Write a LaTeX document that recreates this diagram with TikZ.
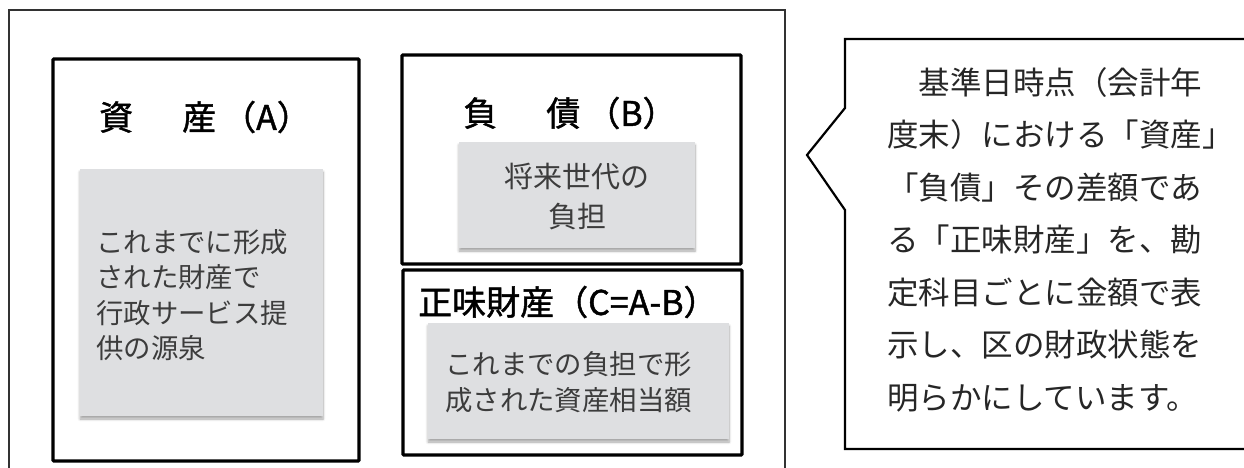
\documentclass[tikz,border=0pt]{standalone}
\usepackage{fontspec}
\setmainfont{Noto Sans CJK JP}
\newfontfamily\jfont{Noto Sans CJK JP}
\newfontfamily\tfont{Noto Sans CJK JP}[FakeBold=1.3]
\usetikzlibrary{shadows.blur}
\definecolor{boxgray}{RGB}{222,223,225}
\definecolor{txtgray}{RGB}{60,60,60}
\definecolor{framegray}{RGB}{50,50,50}
\tikzset{
  bigbox/.style={draw=black, line width=3.4pt, rounded corners=1pt},
  graybox/.style={fill=boxgray, draw=none, blur shadow={shadow xshift=0pt, shadow yshift=-3pt, shadow blur steps=6, shadow blur radius=2.5pt, shadow opacity=35}},
  title/.style={inner sep=0pt, font=\tfont\fontsize{34}{40}\selectfont, text=black},
  body/.style={inner sep=0pt, font=\jfont\fontsize{27.4}{35.5}\selectfont, text=txtgray, align=left},
  calltext/.style={inner sep=0pt, font=\jfont\fontsize{31.5}{52.5}\selectfont, text=black!85, align=left}
}
\begin{document}
\begin{tikzpicture}[x=1pt,y=-1pt]
\useasboundingbox (0,0) rectangle (1244,468);
% outer frame
\draw[framegray, line width=1.5pt] (9,475) -- (9,10) -- (785,10) -- (785,475);
% big boxes
\draw[bigbox] (53,59) rectangle (359,461);
\draw[bigbox] (402,55) rectangle (741,264);
\draw[bigbox] (403,270) rectangle (742,455);
% gray boxes
\path[graybox] (80,169) rectangle (323,416);
\path[graybox] (459,142) rectangle (695,248);
\path[graybox] (428,323) rectangle (729,439);
% titles
\node[title] (ta) at (205,117) {資\hspace{49pt}産\hspace{6pt}（A）};
\node[title] (tb) at (570,113) {負\hspace{49pt}債\hspace{6pt}（B）};
\node[title, anchor=west] (tc) at (418,302) {正味財産（C=A-B）};
% body texts
\node[body, anchor=west] (ba) at (96,295) {これまでに形成\\された財産で\\行政サービス提\\供の源泉};
\node[body, align=center, font=\jfont\fontsize{29}{40}\selectfont] (bb) at (577,197) {将来世代の\\負担};
\node[body, anchor=west] (bc) at (445,382) {これまでの負担で形\\成された資産相当額};
% callout
\draw[black, line width=2.2pt, line join=miter] (1260,39) -- (845,39) -- (845,108) -- (807,155) -- (845,210) -- (845,449) -- (1260,449);
\node[calltext, anchor=west] (ct) at (887,239.5) {　基準日時点（会計年\\度末）における「資産」\\「負債」その差額であ\\る「正味財産」を、勘\\定科目ごとに金額で表\\示し、区の財政状態を\\明らかにしています。};
\end{tikzpicture}
\end{document}
